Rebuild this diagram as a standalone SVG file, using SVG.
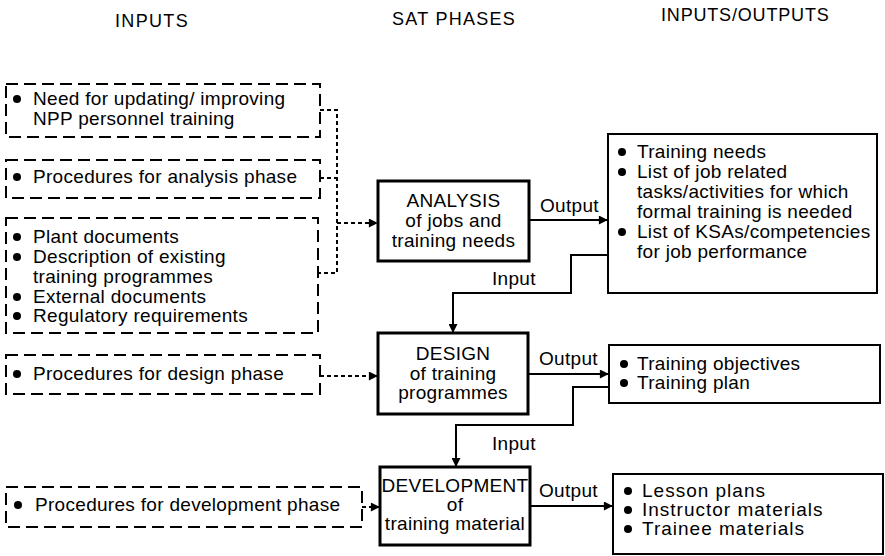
<svg xmlns="http://www.w3.org/2000/svg" width="885" height="556" viewBox="0 0 885 556">
<style>
text{font-family:"Liberation Sans",Arial,sans-serif;font-size:19px;fill:#000;letter-spacing:0.3px}
.hd{font-size:18px}
.c{text-anchor:middle}
.wide{letter-spacing:1px}
.inbox{fill:none;stroke:#000;stroke-width:2;stroke-dasharray:12 6}
.phase{fill:#fff;stroke:#000;stroke-width:3}
.out{fill:#fff;stroke:#000;stroke-width:2}
.dot{fill:none;stroke:#000;stroke-width:2;stroke-dasharray:4 3}
.solid{fill:none;stroke:#000;stroke-width:2}
</style>
<defs>
<marker id="ah" viewBox="0 0 10 10" refX="9" refY="5" markerWidth="10" markerHeight="9" markerUnits="userSpaceOnUse" orient="auto"><path d="M0,0 L10,5 L0,10 z" fill="#000"/></marker>
</defs>
<g id="headers">
<text class="hd" x="115" y="27" textLength="73" lengthAdjust="spacing">INPUTS</text>
<text class="hd" x="392" y="25" textLength="123" lengthAdjust="spacing">SAT PHASES</text>
<text class="hd" x="661" y="21" textLength="168" lengthAdjust="spacing">INPUTS/OUTPUTS</text>
</g>
<g id="connectors">
<path class="dot" d="M320,110 H337 V273 H318"/>
<path class="dot" d="M320,178 H337"/>
<path class="dot" d="M337,223 H377" marker-end="url(#ah)"/>
<path class="dot" d="M320,376 H377" marker-end="url(#ah)"/>
<path class="dot" d="M362,507 H379" marker-end="url(#ah)"/>
<path class="solid" d="M529,220 H607" marker-end="url(#ah)"/>
<path class="solid" d="M528,374 H608" marker-end="url(#ah)"/>
<path class="solid" d="M530,506 H612" marker-end="url(#ah)"/>
<path class="solid" d="M608,255 H571 V293 H453 V332" marker-end="url(#ah)"/>
<path class="solid" d="M609,387 H573 V425 H456 V466" marker-end="url(#ah)"/>
<text x="540" y="212">Output</text>
<text x="539" y="365">Output</text>
<text x="539" y="497">Output</text>
<text x="492" y="285">Input</text>
<text x="492" y="450">Input</text>
</g>
<g id="in1">
<rect class="inbox" x="6" y="84" width="314" height="53"/>
<circle cx="17" cy="99" r="4"/>
<text x="33" y="105">Need for updating/ improving</text>
<text x="33" y="125">NPP personnel training</text>
</g>
<g id="in2">
<rect class="inbox" x="6" y="160" width="314" height="38"/>
<circle cx="17" cy="177" r="4"/>
<text x="33" y="183">Procedures for analysis phase</text>
</g>
<g id="in3">
<rect class="inbox" x="6" y="218" width="312" height="115"/>
<circle cx="17" cy="237" r="4"/>
<text x="33" y="243">Plant documents</text>
<circle cx="17" cy="257" r="4"/>
<text x="33" y="263">Description of existing</text>
<text x="33" y="283">training programmes</text>
<circle cx="17" cy="297" r="4"/>
<text x="33" y="303">External documents</text>
<circle cx="17" cy="316" r="4"/>
<text x="33" y="322">Regulatory requirements</text>
</g>
<g id="in4">
<rect class="inbox" x="6" y="355" width="314" height="39"/>
<circle cx="17" cy="374" r="4"/>
<text x="33" y="380">Procedures for design phase</text>
</g>
<g id="in5">
<rect class="inbox" x="6" y="487" width="356" height="40"/>
<circle cx="18" cy="505" r="4"/>
<text x="35" y="511">Procedures for development phase</text>
</g>
<g id="analysis">
<rect class="phase" x="378" y="181" width="151" height="80"/>
<text class="c" x="453.5" y="207">ANALYSIS</text>
<text class="c" x="453.5" y="227">of jobs and</text>
<text class="c" x="453.5" y="247">training needs</text>
</g>
<g id="design">
<rect class="phase" x="378" y="333" width="150" height="81"/>
<text class="c" x="453" y="360">DESIGN</text>
<text class="c" x="453" y="380">of training</text>
<text class="c" x="453" y="399">programmes</text>
</g>
<g id="development">
<rect class="phase" x="380" y="467" width="150" height="78"/>
<text class="c" x="455" y="492">DEVELOPMENT</text>
<text class="c" x="455" y="511">of</text>
<text class="c" x="455" y="530">training material</text>
</g>
<g id="out1">
<rect class="out" x="608" y="134" width="269" height="159"/>
<circle cx="622" cy="152" r="4"/>
<text x="637" y="158">Training needs</text>
<circle cx="622" cy="172" r="4"/>
<text x="637" y="178">List of job related</text>
<text x="637" y="198">tasks/activities for which</text>
<text x="637" y="218">formal training is needed</text>
<circle cx="622" cy="232" r="4"/>
<text x="637" y="238">List of KSAs/competencies</text>
<text x="637" y="258">for job performance</text>
</g>
<g id="out2">
<rect class="out" x="609" y="345" width="271" height="58"/>
<circle cx="624" cy="364" r="4"/>
<text x="637" y="370">Training objectives</text>
<circle cx="624" cy="383" r="4"/>
<text x="637" y="389">Training plan</text>
</g>
<g id="out3">
<rect class="out" x="613" y="474" width="270" height="80"/>
<circle cx="628" cy="491" r="4"/>
<text class="wide" x="642" y="497">Lesson plans</text>
<circle cx="628" cy="510" r="4"/>
<text class="wide" x="642" y="516">Instructor materials</text>
<circle cx="628" cy="529" r="4"/>
<text class="wide" x="642" y="535">Trainee materials</text>
</g>
</svg>
